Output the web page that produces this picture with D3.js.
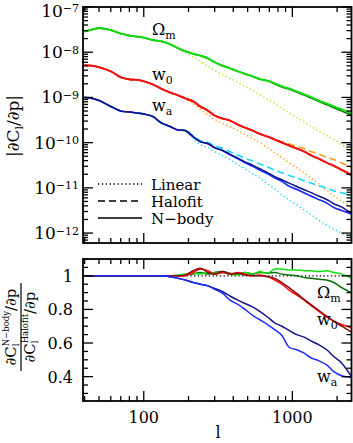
<!DOCTYPE html>
<html><head><meta charset="utf-8">
<script src="https://cdn.jsdelivr.net/npm/d3@7"></script>
<style>body{margin:0;background:#fff}svg{display:block}text{font-family:"DejaVu Serif",serif;fill:#000}</style>
</head><body><svg id="c" width="353" height="443"></svg>
<script>
// multipole grid
const L = [40,45,50,60,70,80,90,100,115,130,150,170,190,215,240,270,300,340,380,430,480,540,600,680,760,850,950,1070,1200,1350,1500,1700,1900,2150,2500];

// Omega_m
const omLinear  = [2.88e-8,3.2e-8,3.45e-8,3.1e-8,2.58e-8,2.33e-8,2.21e-8,2.10e-8,1.85e-8,1.76e-8,1.50e-8,1.2e-8,9.8e-9,7.9e-9,6.3e-9,4.9e-9,3.98e-9,3.16e-9,2.64e-9,2.15e-9,1.76e-9,1.43e-9,1.17e-9,9.03e-10,7.36e-10,5.70e-10,4.52e-10,3.59e-10,2.86e-10,2.27e-10,1.80e-10,1.43e-10,1.17e-10,9.03e-11,6.31e-11];
const omHalofit = [2.86e-8,3.16e-8,3.41e-8,3.08e-8,2.58e-8,2.33e-8,2.21e-8,2.10e-8,1.85e-8,1.76e-8,1.51e-8,1.22e-8,1.04e-8,9.12e-9,8.28e-9,7.22e-9,5.91e-9,4.91e-9,4.37e-9,3.76e-9,3.26e-9,2.90e-9,2.52e-9,2.30e-9,1.97e-9,1.69e-9,1.53e-9,1.31e-9,1.14e-9,9.71e-10,8.37e-10,7.15e-10,6.19e-10,5.36e-10,4.48e-10];
const omNbodyA  = [2.86e-8,3.16e-8,3.41e-8,3.08e-8,2.58e-8,2.33e-8,2.21e-8,2.10e-8,1.85e-8,1.76e-8,1.51e-8,1.23e-8,1.05e-8,9.26e-9,8.36e-9,7.36e-9,6.0e-9,5.01e-9,4.41e-9,3.78e-9,3.33e-9,2.93e-9,2.58e-9,2.33e-9,2.05e-9,1.76e-9,1.58e-9,1.36e-9,1.17e-9,1.0e-9,8.58e-10,7.36e-10,6.31e-10,5.41e-10,4.41e-10];
const omNbodyB  = [2.86e-8,3.16e-8,3.41e-8,3.08e-8,2.58e-8,2.33e-8,2.21e-8,2.10e-8,1.85e-8,1.76e-8,1.51e-8,1.22e-8,1.045e-8,9.21e-9,8.45e-9,7.29e-9,6.03e-9,5.03e-9,4.44e-9,3.80e-9,3.33e-9,2.93e-9,2.57e-9,2.33e-9,2.01e-9,1.71e-9,1.54e-9,1.31e-9,1.13e-9,9.56e-10,8.20e-10,6.97e-10,5.94e-10,4.98e-10,4.03e-10];

// w_0
const w0Linear  = [5.1e-9,4.98e-9,4.62e-9,3.76e-9,2.77e-9,2.50e-9,2.44e-9,2.26e-9,1.93e-9,1.57e-9,1.28e-9,1.10e-9,9.3e-10,7.36e-10,5.41e-10,4.19e-10,3.24e-10,2.64e-10,2.27e-10,1.85e-10,1.51e-10,1.23e-10,1.0e-10,7.74e-11,6.0e-11,4.64e-11,3.59e-11,2.78e-11,2.15e-11,1.58e-11,1.23e-11,9.03e-12,6.64e-12,5.14e-12,3.59e-12];
const w0Halofit = [5.14e-9,5.01e-9,4.64e-9,3.78e-9,2.78e-9,2.51e-9,2.45e-9,2.27e-9,1.94e-9,1.58e-9,1.29e-9,1.11e-9,9.5e-10,7.99e-10,6.07e-10,4.99e-10,3.94e-10,3.34e-10,3.05e-10,2.46e-10,2.13e-10,1.85e-10,1.57e-10,1.37e-10,1.20e-10,1.05e-10,9.38e-11,8.32e-11,7.38e-11,6.27e-11,5.58e-11,4.75e-11,4.22e-11,3.54e-11,2.81e-11];
const w0NbodyA  = [5.14e-9,5.01e-9,4.64e-9,3.78e-9,2.78e-9,2.51e-9,2.45e-9,2.27e-9,1.94e-9,1.58e-9,1.29e-9,1.11e-9,9.5e-10,8.15e-10,6.31e-10,5.14e-10,3.98e-10,3.41e-10,3.08e-10,2.51e-10,2.15e-10,1.85e-10,1.58e-10,1.36e-10,1.17e-10,1.0e-10,8.58e-11,7.36e-11,6.31e-11,5.14e-11,4.41e-11,3.59e-11,3.08e-11,2.51e-11,1.94e-11];
const w0NbodyB  = [5.14e-9,5.01e-9,4.64e-9,3.78e-9,2.78e-9,2.51e-9,2.45e-9,2.27e-9,1.94e-9,1.58e-9,1.29e-9,1.11e-9,9.55e-10,8.23e-10,6.34e-10,5.09e-10,3.98e-10,3.42e-10,3.08e-10,2.50e-10,2.14e-10,1.85e-10,1.57e-10,1.36e-10,1.18e-10,1.01e-10,8.72e-11,7.45e-11,6.35e-11,5.17e-11,4.44e-11,3.61e-11,3.08e-11,2.48e-11,1.87e-11];

// w_a
const waLinear  = [9.9e-10,9.4e-10,8.5e-10,6.25e-10,4.95e-10,4.72e-10,4.48e-10,4.26e-10,3.74e-10,2.75e-10,2.24e-10,1.87e-10,1.80e-10,1.23e-10,9.03e-11,7.74e-11,6.31e-11,5.14e-11,4.19e-11,3.24e-11,2.64e-11,2.05e-11,1.67e-11,1.23e-11,9.5e-12,6.99e-12,5.41e-12,4.19e-12,3.24e-12,2.51e-12,1.94e-12,1.51e-12,1.23e-12,1.0e-12,8.15e-13];
const waHalofit = [1.0e-9,9.5e-10,8.58e-10,6.31e-10,5.01e-10,4.77e-10,4.52e-10,4.30e-10,3.78e-10,2.78e-10,2.28e-10,1.93e-10,1.90e-10,1.42e-10,1.105e-10,1.01e-10,8.41e-11,7.42e-11,6.33e-11,5.31e-11,4.49e-11,3.92e-11,3.39e-11,2.89e-11,2.46e-11,2.16e-11,1.88e-11,1.65e-11,1.43e-11,1.27e-11,1.12e-11,9.87e-12,8.58e-12,7.80e-12,6.68e-12];
const waNbodyA  = [1.0e-9,9.5e-10,8.58e-10,6.31e-10,5.01e-10,4.77e-10,4.52e-10,4.30e-10,3.78e-10,2.78e-10,2.27e-10,1.90e-10,1.85e-10,1.36e-10,1.05e-10,9.5e-11,7.74e-11,6.64e-11,5.41e-11,4.41e-11,3.59e-11,3.0e-11,2.51e-11,2.05e-11,1.67e-11,1.39e-11,1.08e-11,9.26e-12,7.74e-12,6.48e-12,5.55e-12,4.64e-12,3.69e-12,3.16e-12,2.64e-12];
const waNbodyB  = [1.0e-9,9.5e-10,8.58e-10,6.31e-10,5.01e-10,4.77e-10,4.52e-10,4.30e-10,3.78e-10,2.78e-10,2.27e-10,1.90e-10,1.85e-10,1.36e-10,1.05e-10,9.5e-11,7.78e-11,6.72e-11,5.57e-11,4.54e-11,3.75e-11,3.19e-11,2.68e-11,2.18e-11,1.77e-11,1.51e-11,1.27e-11,1.07e-11,9.08e-12,7.75e-12,6.61e-12,5.53e-12,4.46e-12,3.74e-12,2.67e-12];

// ratios N-body / Halofit (lower panel)
const omRatioA = [1,1,1,1,1,1,1,1,1,1,1,1.005,1.01,1.015,1.01,1.02,1.015,1.02,1.01,1.005,1.02,1.01,1.025,1.015,1.04,1.04,1.035,1.035,1.03,1.03,1.025,1.03,1.02,1.01,0.985];
const omRatioB = [1,1,1,1,1,1,1,1,1,1,1,1.0,1.005,1.01,1.02,1.01,1.02,1.025,1.015,1.01,1.02,1.01,1.02,1.015,1.02,1.01,1.005,1.0,0.99,0.985,0.98,0.975,0.96,0.93,0.9];
const w0RatioA = [1,1,1,1,1,1,1,1,1,1,1,1,1.0,1.02,1.04,1.03,1.01,1.02,1.01,1.02,1.01,1.0,1.005,0.995,0.975,0.95,0.915,0.885,0.855,0.82,0.79,0.755,0.73,0.71,0.69];
const w0RatioB = [1,1,1,1,1,1,1,1,1,1,1,1,1.005,1.03,1.045,1.02,1.01,1.025,1.01,1.015,1.005,1.0,1.0,0.995,0.985,0.96,0.93,0.895,0.86,0.825,0.795,0.76,0.73,0.7,0.665];
const waRatioA = [1,1,1,1,1,1,1,1,1,1,0.995,0.985,0.975,0.96,0.95,0.94,0.92,0.895,0.855,0.83,0.80,0.765,0.74,0.71,0.68,0.645,0.575,0.56,0.54,0.51,0.495,0.47,0.43,0.405,0.395];
const waRatioB = [1,1,1,1,1,1,1,1,1,1,0.995,0.985,0.975,0.96,0.95,0.94,0.925,0.905,0.88,0.855,0.835,0.815,0.79,0.755,0.72,0.70,0.675,0.65,0.635,0.61,0.59,0.56,0.52,0.48,0.40];

// axis ticks / labels
const topExponents = [-7,-8,-9,-10,-11,-12];
const xMajor = [100,1000];
const xMinor = [40,50,60,70,80,90,200,300,400,500,600,700,800,900,2000];
const botMajor = [0.4,0.6,0.8,1.0];
const botLabels = ["0.4","0.6","0.8","1"];
const legendNames = ["Linear","Halofit","N\u2212body"];

// colours
const col = {
  omLight:"#a8ee20", w0Light:"#ff9a10", waLight:"#10dcf6",
  omA:"#10e010", omB:"#0a6e0a", w0A:"#ff1010", w0B:"#8a0a0a", waA:"#1c2cff", waB:"#14148c"
};

const svg = d3.select("#c");
const X0 = 83, X1 = 351.5;
const P1 = {top:7, bot:243}, P2 = {top:259, bot:401};
const x = d3.scaleLog().domain([39,2500]).range([X0,X1]);
const y1 = d3.scaleLog().domain([6.03e-13,1e-7]).range([P1.bot,P1.top]);
const y2 = d3.scaleLinear().domain([0.255,1.1]).range([P2.bot,P2.top]);

const defs = svg.append("defs");
defs.append("clipPath").attr("id","cp1").append("rect").attr("x",X0).attr("y",P1.top).attr("width",X1-X0).attr("height",P1.bot-P1.top);
defs.append("clipPath").attr("id","cp2").append("rect").attr("x",X0).attr("y",P2.top).attr("width",X1-X0).attr("height",P2.bot-P2.top);

const mkLine = ys => d3.line().x((d,i)=>x(L[i])).y(d=>ys(d)).curve(d3.curveCatmullRom.alpha(0.5));

// ---------- top panel ----------
const g1 = svg.append("g").attr("clip-path","url(#cp1)");
const topSeries = [
  {v:omLinear, c:col.omLight, d:"1.3,2.6", w:1.4},
  {v:w0Linear, c:col.w0Light, d:"1.3,2.6", w:1.4},
  {v:waLinear, c:col.waLight, d:"1.3,2.6", w:1.4},
  {v:omHalofit, c:col.omLight, d:"7,4", w:1.6},
  {v:w0Halofit, c:col.w0Light, d:"7,4", w:1.6},
  {v:waHalofit, c:col.waLight, d:"7,4", w:1.6},
  {v:omNbodyB, c:col.omB, w:1.6},
  {v:omNbodyA, c:col.omA, w:1.9},
  {v:w0NbodyB, c:col.w0B, w:1.6},
  {v:w0NbodyA, c:col.w0A, w:1.9},
  {v:waNbodyA, c:col.waA, w:1.7},
  {v:waNbodyB, c:col.waB, w:1.5}
];
topSeries.forEach(s=>{
  g1.append("path").datum(s.v).attr("d",mkLine(y1)).attr("fill","none")
    .attr("stroke",s.c).attr("stroke-width",s.w).attr("stroke-dasharray",s.d||null);
});

// ---------- bottom panel ----------
const g2 = svg.append("g").attr("clip-path","url(#cp2)");
g2.append("line").attr("x1",X0).attr("x2",X1).attr("y1",y2(1)).attr("y2",y2(1))
  .attr("stroke","#000").attr("stroke-width",1.3).attr("stroke-dasharray","1.3,2.4");
const botSeries = [
  {v:omRatioB, c:col.omB}, {v:omRatioA, c:col.omA},
  {v:w0RatioA, c:col.w0A}, {v:w0RatioB, c:col.w0B},
  {v:waRatioB, c:col.waB}, {v:waRatioA, c:col.waA}
];
botSeries.forEach(s=>{
  g2.append("path").datum(s.v).attr("d",mkLine(y2)).attr("fill","none")
    .attr("stroke",s.c).attr("stroke-width",1.5);
});

// ---------- frames and ticks ----------
function frame(P){
  svg.append("rect").attr("x",X0).attr("y",P.top).attr("width",X1-X0).attr("height",P.bot-P.top)
    .attr("fill","none").attr("stroke","#000").attr("stroke-width",1.8);
}
const tk = svg.append("g").attr("stroke","#000").attr("stroke-width",1.3);
function xTicks(P){
  xMajor.forEach(v=>{const px=x(v);
    tk.append("line").attr("x1",px).attr("x2",px).attr("y1",P.bot).attr("y2",P.bot-10);
    tk.append("line").attr("x1",px).attr("x2",px).attr("y1",P.top).attr("y2",P.top+10);});
  xMinor.forEach(v=>{const px=x(v);
    tk.append("line").attr("x1",px).attr("x2",px).attr("y1",P.bot).attr("y2",P.bot-5);
    tk.append("line").attr("x1",px).attr("x2",px).attr("y1",P.top).attr("y2",P.top+5);});
}
function yTick(py,len){
  tk.append("line").attr("x1",X0).attr("x2",X0+len).attr("y1",py).attr("y2",py);
  tk.append("line").attr("x1",X1).attr("x2",X1-len).attr("y1",py).attr("y2",py);
}
xTicks(P1); xTicks(P2);
topExponents.forEach(e=>{
  yTick(y1(Math.pow(10,e)),10);
  for(let k=2;k<=9;k++){const v=k*Math.pow(10,e-1); if(v>=6.03e-13) yTick(y1(v),5);}
});
for(let i=6;i<=22;i++){
  const v=i*0.05;
  const major = botMajor.some(m=>Math.abs(m-v)<1e-6);
  yTick(y2(v), major?10:5);
}
frame(P1); frame(P2);

// ---------- tick labels ----------
topExponents.forEach(e=>{
  const t = svg.append("text").attr("x",79).attr("y",Math.max(y1(Math.pow(10,e))+6,16.5)).attr("text-anchor","end").attr("font-size",17);
  t.append("tspan").text("10");
  t.append("tspan").attr("font-size",11).attr("dy",-4.5).text("\u2212"+Math.abs(e));
});
botMajor.forEach((v,i)=>{
  svg.append("text").attr("x",73).attr("y",y2(v)+6).attr("text-anchor","end").attr("font-size",16).text(botLabels[i]);
});
xMajor.forEach(v=>{
  svg.append("text").attr("x",x(v)).attr("y",423).attr("text-anchor","middle").attr("font-size",16).text(String(v));
});
svg.append("text").attr("x",218).attr("y",438).attr("text-anchor","middle").attr("font-size",16).text("l");

// ---------- axis titles ----------
const yt = svg.append("g").attr("transform","translate(0,126) rotate(-90)");
const ytt = yt.append("text").attr("x",0).attr("y",19).attr("text-anchor","middle").attr("font-size",17);
ytt.append("tspan").text("|\u2202C");
ytt.append("tspan").attr("font-size",11).attr("dy",4).text("l");
ytt.append("tspan").attr("dy",-4).text("/\u2202p|");

const fr = svg.append("g").attr("transform","translate(21,327) rotate(-90)");
fr.append("line").attr("x1",-44).attr("x2",44).attr("y1",0).attr("y2",0).attr("stroke","#000").attr("stroke-width",1.2);
const num = fr.append("text").attr("x",0).attr("y",-5).attr("text-anchor","middle").attr("font-size",15);
num.append("tspan").text("\u2202C");
num.append("tspan").attr("font-size",9).attr("dy",3).text("l");
num.append("tspan").attr("font-size",8.5).attr("dx",-3).attr("dy",-10).text("N\u2212body");
num.append("tspan").attr("dy",7).text("/\u2202p");
const den = fr.append("text").attr("x",0).attr("y",13.5).attr("text-anchor","middle").attr("font-size",15);
den.append("tspan").text("\u2202C");
den.append("tspan").attr("font-size",9).attr("dy",3).text("l");
den.append("tspan").attr("font-size",8.5).attr("dx",-3).attr("dy",-10).text("Halofit");
den.append("tspan").attr("dy",7).text("/\u2202p");

// ---------- curve labels ----------
function lab(px,py,main,sub){
  const t=svg.append("text").attr("x",px).attr("y",py).attr("font-size",16);
  t.append("tspan").text(main);
  t.append("tspan").attr("font-size",11).attr("dy",4).text(sub);
}
lab(152,35,"\u03A9","m"); lab(152,80,"w","0"); lab(152,111,"w","a");
lab(317,298,"\u03A9","m"); lab(317,325,"w","0"); lab(317,382,"w","a");

// ---------- legend ----------
const legStyles = [{d:"1.3,2.6"},{d:"7,4"},{d:null}];
const legY = [184,201,218];
legendNames.forEach((n,i)=>{
  svg.append("line").attr("x1",98).attr("x2",142).attr("y1",legY[i]).attr("y2",legY[i])
    .attr("stroke","#000").attr("stroke-width",1.4).attr("stroke-dasharray",legStyles[i].d);
  svg.append("text").attr("x",151).attr("y",legY[i]+5.5).attr("font-size",15).text(n);
});
</script></body></html>
